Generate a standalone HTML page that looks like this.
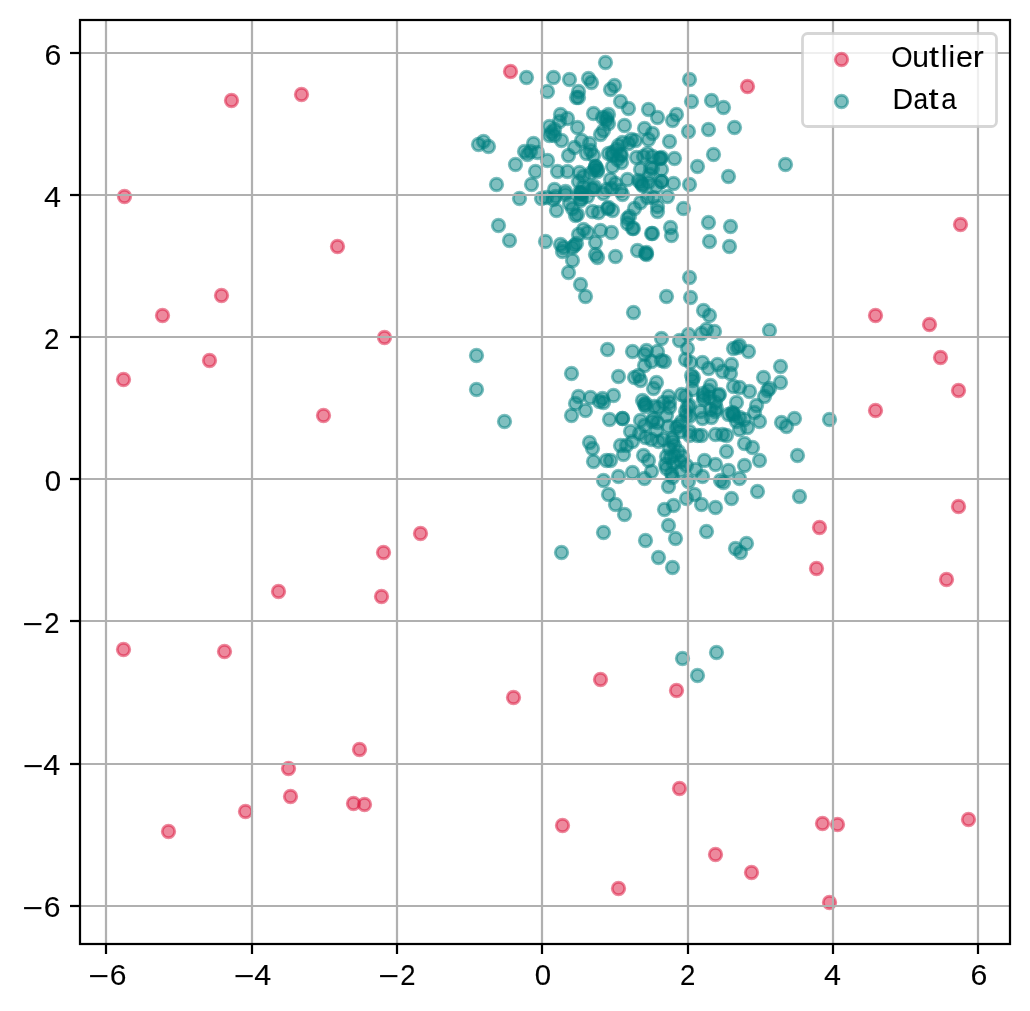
<!DOCTYPE html>
<html lang="en"><head><meta charset="utf-8"><title>Outlier scatter</title>
<style>
html,body{margin:0;padding:0;background:#fff;}
body{width:1030px;height:1011px;overflow:hidden;}
svg{display:block;position:absolute;left:0;top:0;}
text{font-family:"Liberation Sans",sans-serif;fill:#000;stroke:#000;vector-effect:non-scaling-stroke;}
.tx{filter:grayscale(1);}
.c{fill:#dc143c;fill-opacity:.5;stroke:#dc143c;stroke-opacity:.5;stroke-width:2.85;}
.t{fill:#008080;fill-opacity:.5;stroke:#008080;stroke-opacity:.5;stroke-width:2.85;}
.g{stroke:#b0b0b0;stroke-width:2.22;fill:none;}
.k{stroke:#000;stroke-width:2.22;fill:none;}
</style></head><body>
<svg width="1030" height="1011" viewBox="0 0 1030 1011">
<rect x="0" y="0" width="1030" height="1011" fill="#fff"/>
<defs><clipPath id="ax"><rect x="80.00" y="20.00" width="930.00" height="924.00"/></clipPath></defs>

<g clip-path="url(#ax)">
<g><circle class="c" cx="946.5" cy="579.5" r="6.25"/><circle class="c" cx="168.5" cy="831.5" r="6.25"/><circle class="c" cx="124.5" cy="196.5" r="6.25"/><circle class="c" cx="960.5" cy="224.5" r="6.25"/><circle class="c" cx="209.5" cy="360.5" r="6.25"/><circle class="c" cx="231.5" cy="100.5" r="6.25"/><circle class="c" cx="337.5" cy="246.5" r="6.25"/><circle class="c" cx="123.5" cy="379.5" r="6.25"/><circle class="c" cx="929.5" cy="324.5" r="6.25"/><circle class="c" cx="420.5" cy="533.5" r="6.25"/><circle class="c" cx="715.5" cy="854.5" r="6.25"/><circle class="c" cx="290.5" cy="796.5" r="6.25"/><circle class="c" cx="381.5" cy="596.5" r="6.25"/><circle class="c" cx="968.5" cy="819.5" r="6.25"/><circle class="c" cx="288.5" cy="768.5" r="6.25"/><circle class="c" cx="676.5" cy="690.5" r="6.25"/><circle class="c" cx="513.5" cy="697.5" r="6.25"/><circle class="c" cx="245.5" cy="811.5" r="6.25"/><circle class="c" cx="679.5" cy="788.5" r="6.25"/><circle class="c" cx="278.5" cy="591.5" r="6.25"/><circle class="c" cx="822.5" cy="823.5" r="6.25"/><circle class="c" cx="837.5" cy="824.5" r="6.25"/><circle class="c" cx="958.5" cy="506.5" r="6.25"/><circle class="c" cx="958.5" cy="390.5" r="6.25"/><circle class="c" cx="751.5" cy="872.5" r="6.25"/><circle class="c" cx="353.5" cy="803.5" r="6.25"/><circle class="c" cx="364.5" cy="804.5" r="6.25"/><circle class="c" cx="383.5" cy="552.5" r="6.25"/><circle class="c" cx="162.5" cy="315.5" r="6.25"/><circle class="c" cx="600.5" cy="679.5" r="6.25"/><circle class="c" cx="562.5" cy="825.5" r="6.25"/><circle class="c" cx="384.5" cy="337.5" r="6.25"/><circle class="c" cx="221.5" cy="295.5" r="6.25"/><circle class="c" cx="359.5" cy="749.5" r="6.25"/><circle class="c" cx="618.5" cy="888.5" r="6.25"/><circle class="c" cx="829.5" cy="902.5" r="6.25"/><circle class="c" cx="747.5" cy="86.5" r="6.25"/><circle class="c" cx="323.5" cy="415.5" r="6.25"/><circle class="c" cx="301.5" cy="94.5" r="6.25"/><circle class="c" cx="816.5" cy="568.5" r="6.25"/><circle class="c" cx="875.5" cy="410.5" r="6.25"/><circle class="c" cx="875.5" cy="315.5" r="6.25"/><circle class="c" cx="940.5" cy="357.5" r="6.25"/><circle class="c" cx="123.5" cy="649.5" r="6.25"/><circle class="c" cx="224.5" cy="651.5" r="6.25"/><circle class="c" cx="510.5" cy="71.5" r="6.25"/><circle class="c" cx="819.5" cy="527.5" r="6.25"/></g>
<g><circle class="t" cx="708.5" cy="222.5" r="6.25"/><circle class="t" cx="661.5" cy="181.5" r="6.25"/><circle class="t" cx="608.5" cy="153.5" r="6.25"/><circle class="t" cx="620.5" cy="101.5" r="6.25"/><circle class="t" cx="652.5" cy="168.5" r="6.25"/><circle class="t" cx="636.5" cy="157.5" r="6.25"/><circle class="t" cx="689.5" cy="184.5" r="6.25"/><circle class="t" cx="629.5" cy="216.5" r="6.25"/><circle class="t" cx="483.5" cy="141.5" r="6.25"/><circle class="t" cx="657.5" cy="211.5" r="6.25"/><circle class="t" cx="729.5" cy="246.5" r="6.25"/><circle class="t" cx="615.5" cy="183.5" r="6.25"/><circle class="t" cx="691.5" cy="101.5" r="6.25"/><circle class="t" cx="621.5" cy="155.5" r="6.25"/><circle class="t" cx="568.5" cy="272.5" r="6.25"/><circle class="t" cx="595.5" cy="166.5" r="6.25"/><circle class="t" cx="676.5" cy="114.5" r="6.25"/><circle class="t" cx="593.5" cy="189.5" r="6.25"/><circle class="t" cx="560.5" cy="244.5" r="6.25"/><circle class="t" cx="526.5" cy="77.5" r="6.25"/><circle class="t" cx="587.5" cy="196.5" r="6.25"/><circle class="t" cx="549.5" cy="135.5" r="6.25"/><circle class="t" cx="531.5" cy="184.5" r="6.25"/><circle class="t" cx="568.5" cy="155.5" r="6.25"/><circle class="t" cx="587.5" cy="232.5" r="6.25"/><circle class="t" cx="612.5" cy="152.5" r="6.25"/><circle class="t" cx="617.5" cy="159.5" r="6.25"/><circle class="t" cx="581.5" cy="192.5" r="6.25"/><circle class="t" cx="579.5" cy="192.5" r="6.25"/><circle class="t" cx="572.5" cy="260.5" r="6.25"/><circle class="t" cx="622.5" cy="194.5" r="6.25"/><circle class="t" cx="530.5" cy="151.5" r="6.25"/><circle class="t" cx="567.5" cy="171.5" r="6.25"/><circle class="t" cx="650.5" cy="167.5" r="6.25"/><circle class="t" cx="671.5" cy="235.5" r="6.25"/><circle class="t" cx="634.5" cy="208.5" r="6.25"/><circle class="t" cx="569.5" cy="203.5" r="6.25"/><circle class="t" cx="597.5" cy="171.5" r="6.25"/><circle class="t" cx="554.5" cy="129.5" r="6.25"/><circle class="t" cx="637.5" cy="250.5" r="6.25"/><circle class="t" cx="689.5" cy="79.5" r="6.25"/><circle class="t" cx="673.5" cy="183.5" r="6.25"/><circle class="t" cx="559.5" cy="121.5" r="6.25"/><circle class="t" cx="593.5" cy="113.5" r="6.25"/><circle class="t" cx="624.5" cy="125.5" r="6.25"/><circle class="t" cx="631.5" cy="139.5" r="6.25"/><circle class="t" cx="614.5" cy="85.5" r="6.25"/><circle class="t" cx="620.5" cy="154.5" r="6.25"/><circle class="t" cx="709.5" cy="241.5" r="6.25"/><circle class="t" cx="549.5" cy="126.5" r="6.25"/><circle class="t" cx="553.5" cy="77.5" r="6.25"/><circle class="t" cx="592.5" cy="211.5" r="6.25"/><circle class="t" cx="711.5" cy="100.5" r="6.25"/><circle class="t" cx="708.5" cy="129.5" r="6.25"/><circle class="t" cx="569.5" cy="79.5" r="6.25"/><circle class="t" cx="600.5" cy="134.5" r="6.25"/><circle class="t" cx="661.5" cy="181.5" r="6.25"/><circle class="t" cx="644.5" cy="128.5" r="6.25"/><circle class="t" cx="632.5" cy="228.5" r="6.25"/><circle class="t" cx="628.5" cy="108.5" r="6.25"/><circle class="t" cx="578.5" cy="181.5" r="6.25"/><circle class="t" cx="591.5" cy="82.5" r="6.25"/><circle class="t" cx="647.5" cy="153.5" r="6.25"/><circle class="t" cx="574.5" cy="147.5" r="6.25"/><circle class="t" cx="579.5" cy="172.5" r="6.25"/><circle class="t" cx="581.5" cy="140.5" r="6.25"/><circle class="t" cx="642.5" cy="184.5" r="6.25"/><circle class="t" cx="633.5" cy="228.5" r="6.25"/><circle class="t" cx="537.5" cy="152.5" r="6.25"/><circle class="t" cx="622.5" cy="142.5" r="6.25"/><circle class="t" cx="734.5" cy="127.5" r="6.25"/><circle class="t" cx="567.5" cy="118.5" r="6.25"/><circle class="t" cx="546.5" cy="197.5" r="6.25"/><circle class="t" cx="610.5" cy="89.5" r="6.25"/><circle class="t" cx="575.5" cy="215.5" r="6.25"/><circle class="t" cx="608.5" cy="207.5" r="6.25"/><circle class="t" cx="670.5" cy="227.5" r="6.25"/><circle class="t" cx="555.5" cy="196.5" r="6.25"/><circle class="t" cx="588.5" cy="78.5" r="6.25"/><circle class="t" cx="661.5" cy="169.5" r="6.25"/><circle class="t" cx="551.5" cy="132.5" r="6.25"/><circle class="t" cx="562.5" cy="251.5" r="6.25"/><circle class="t" cx="674.5" cy="158.5" r="6.25"/><circle class="t" cx="660.5" cy="158.5" r="6.25"/><circle class="t" cx="657.5" cy="206.5" r="6.25"/><circle class="t" cx="561.5" cy="140.5" r="6.25"/><circle class="t" cx="572.5" cy="208.5" r="6.25"/><circle class="t" cx="590.5" cy="173.5" r="6.25"/><circle class="t" cx="595.5" cy="242.5" r="6.25"/><circle class="t" cx="580.5" cy="284.5" r="6.25"/><circle class="t" cx="645.5" cy="253.5" r="6.25"/><circle class="t" cx="557.5" cy="171.5" r="6.25"/><circle class="t" cx="576.5" cy="97.5" r="6.25"/><circle class="t" cx="547.5" cy="160.5" r="6.25"/><circle class="t" cx="611.5" cy="232.5" r="6.25"/><circle class="t" cx="640.5" cy="182.5" r="6.25"/><circle class="t" cx="652.5" cy="133.5" r="6.25"/><circle class="t" cx="723.5" cy="107.5" r="6.25"/><circle class="t" cx="594.5" cy="186.5" r="6.25"/><circle class="t" cx="669.5" cy="141.5" r="6.25"/><circle class="t" cx="646.5" cy="254.5" r="6.25"/><circle class="t" cx="612.5" cy="210.5" r="6.25"/><circle class="t" cx="627.5" cy="179.5" r="6.25"/><circle class="t" cx="659.5" cy="158.5" r="6.25"/><circle class="t" cx="653.5" cy="197.5" r="6.25"/><circle class="t" cx="565.5" cy="194.5" r="6.25"/><circle class="t" cx="612.5" cy="155.5" r="6.25"/><circle class="t" cx="728.5" cy="176.5" r="6.25"/><circle class="t" cx="565.5" cy="191.5" r="6.25"/><circle class="t" cx="590.5" cy="150.5" r="6.25"/><circle class="t" cx="535.5" cy="171.5" r="6.25"/><circle class="t" cx="621.5" cy="162.5" r="6.25"/><circle class="t" cx="583.5" cy="186.5" r="6.25"/><circle class="t" cx="541.5" cy="198.5" r="6.25"/><circle class="t" cx="586.5" cy="153.5" r="6.25"/><circle class="t" cx="554.5" cy="135.5" r="6.25"/><circle class="t" cx="689.5" cy="277.5" r="6.25"/><circle class="t" cx="635.5" cy="140.5" r="6.25"/><circle class="t" cx="581.5" cy="194.5" r="6.25"/><circle class="t" cx="606.5" cy="189.5" r="6.25"/><circle class="t" cx="597.5" cy="257.5" r="6.25"/><circle class="t" cx="672.5" cy="120.5" r="6.25"/><circle class="t" cx="572.5" cy="247.5" r="6.25"/><circle class="t" cx="640.5" cy="202.5" r="6.25"/><circle class="t" cx="620.5" cy="190.5" r="6.25"/><circle class="t" cx="648.5" cy="139.5" r="6.25"/><circle class="t" cx="576.5" cy="243.5" r="6.25"/><circle class="t" cx="533.5" cy="143.5" r="6.25"/><circle class="t" cx="553.5" cy="199.5" r="6.25"/><circle class="t" cx="583.5" cy="176.5" r="6.25"/><circle class="t" cx="515.5" cy="164.5" r="6.25"/><circle class="t" cx="640.5" cy="169.5" r="6.25"/><circle class="t" cx="597.5" cy="169.5" r="6.25"/><circle class="t" cx="633.5" cy="312.5" r="6.25"/><circle class="t" cx="713.5" cy="154.5" r="6.25"/><circle class="t" cx="580.5" cy="193.5" r="6.25"/><circle class="t" cx="638.5" cy="180.5" r="6.25"/><circle class="t" cx="608.5" cy="123.5" r="6.25"/><circle class="t" cx="578.5" cy="97.5" r="6.25"/><circle class="t" cx="628.5" cy="143.5" r="6.25"/><circle class="t" cx="560.5" cy="114.5" r="6.25"/><circle class="t" cx="648.5" cy="109.5" r="6.25"/><circle class="t" cx="581.5" cy="198.5" r="6.25"/><circle class="t" cx="730.5" cy="226.5" r="6.25"/><circle class="t" cx="606.5" cy="117.5" r="6.25"/><circle class="t" cx="618.5" cy="145.5" r="6.25"/><circle class="t" cx="593.5" cy="155.5" r="6.25"/><circle class="t" cx="547.5" cy="91.5" r="6.25"/><circle class="t" cx="607.5" cy="208.5" r="6.25"/><circle class="t" cx="647.5" cy="197.5" r="6.25"/><circle class="t" cx="545.5" cy="241.5" r="6.25"/><circle class="t" cx="648.5" cy="182.5" r="6.25"/><circle class="t" cx="606.5" cy="120.5" r="6.25"/><circle class="t" cx="556.5" cy="210.5" r="6.25"/><circle class="t" cx="594.5" cy="169.5" r="6.25"/><circle class="t" cx="611.5" cy="188.5" r="6.25"/><circle class="t" cx="610.5" cy="179.5" r="6.25"/><circle class="t" cx="577.5" cy="214.5" r="6.25"/><circle class="t" cx="627.5" cy="218.5" r="6.25"/><circle class="t" cx="554.5" cy="189.5" r="6.25"/><circle class="t" cx="605.5" cy="62.5" r="6.25"/><circle class="t" cx="577.5" cy="127.5" r="6.25"/><circle class="t" cx="651.5" cy="233.5" r="6.25"/><circle class="t" cx="652.5" cy="233.5" r="6.25"/><circle class="t" cx="478.5" cy="144.5" r="6.25"/><circle class="t" cx="524.5" cy="151.5" r="6.25"/><circle class="t" cx="578.5" cy="91.5" r="6.25"/><circle class="t" cx="667.5" cy="196.5" r="6.25"/><circle class="t" cx="578.5" cy="234.5" r="6.25"/><circle class="t" cx="591.5" cy="188.5" r="6.25"/><circle class="t" cx="595.5" cy="166.5" r="6.25"/><circle class="t" cx="643.5" cy="156.5" r="6.25"/><circle class="t" cx="574.5" cy="245.5" r="6.25"/><circle class="t" cx="683.5" cy="208.5" r="6.25"/><circle class="t" cx="580.5" cy="200.5" r="6.25"/><circle class="t" cx="519.5" cy="198.5" r="6.25"/><circle class="t" cx="589.5" cy="143.5" r="6.25"/><circle class="t" cx="649.5" cy="174.5" r="6.25"/><circle class="t" cx="661.5" cy="157.5" r="6.25"/><circle class="t" cx="612.5" cy="166.5" r="6.25"/><circle class="t" cx="603.5" cy="193.5" r="6.25"/><circle class="t" cx="600.5" cy="230.5" r="6.25"/><circle class="t" cx="627.5" cy="223.5" r="6.25"/><circle class="t" cx="656.5" cy="186.5" r="6.25"/><circle class="t" cx="616.5" cy="149.5" r="6.25"/><circle class="t" cx="646.5" cy="252.5" r="6.25"/><circle class="t" cx="603.5" cy="130.5" r="6.25"/><circle class="t" cx="527.5" cy="154.5" r="6.25"/><circle class="t" cx="498.5" cy="225.5" r="6.25"/><circle class="t" cx="615.5" cy="256.5" r="6.25"/><circle class="t" cx="563.5" cy="247.5" r="6.25"/><circle class="t" cx="697.5" cy="166.5" r="6.25"/><circle class="t" cx="642.5" cy="185.5" r="6.25"/><circle class="t" cx="595.5" cy="254.5" r="6.25"/><circle class="t" cx="598.5" cy="212.5" r="6.25"/><circle class="t" cx="657.5" cy="117.5" r="6.25"/><circle class="t" cx="688.5" cy="131.5" r="6.25"/><circle class="t" cx="583.5" cy="229.5" r="6.25"/><circle class="t" cx="652.5" cy="156.5" r="6.25"/><circle class="t" cx="602.5" cy="398.5" r="6.25"/><circle class="t" cx="733.5" cy="413.5" r="6.25"/><circle class="t" cx="682.5" cy="456.5" r="6.25"/><circle class="t" cx="618.5" cy="376.5" r="6.25"/><circle class="t" cx="676.5" cy="427.5" r="6.25"/><circle class="t" cx="780.5" cy="382.5" r="6.25"/><circle class="t" cx="710.5" cy="409.5" r="6.25"/><circle class="t" cx="769.5" cy="330.5" r="6.25"/><circle class="t" cx="739.5" cy="387.5" r="6.25"/><circle class="t" cx="585.5" cy="410.5" r="6.25"/><circle class="t" cx="685.5" cy="411.5" r="6.25"/><circle class="t" cx="740.5" cy="552.5" r="6.25"/><circle class="t" cx="663.5" cy="402.5" r="6.25"/><circle class="t" cx="668.5" cy="486.5" r="6.25"/><circle class="t" cx="736.5" cy="402.5" r="6.25"/><circle class="t" cx="642.5" cy="400.5" r="6.25"/><circle class="t" cx="733.5" cy="415.5" r="6.25"/><circle class="t" cx="732.5" cy="412.5" r="6.25"/><circle class="t" cx="671.5" cy="473.5" r="6.25"/><circle class="t" cx="687.5" cy="406.5" r="6.25"/><circle class="t" cx="736.5" cy="421.5" r="6.25"/><circle class="t" cx="715.5" cy="464.5" r="6.25"/><circle class="t" cx="652.5" cy="421.5" r="6.25"/><circle class="t" cx="638.5" cy="375.5" r="6.25"/><circle class="t" cx="715.5" cy="402.5" r="6.25"/><circle class="t" cx="709.5" cy="315.5" r="6.25"/><circle class="t" cx="668.5" cy="525.5" r="6.25"/><circle class="t" cx="702.5" cy="418.5" r="6.25"/><circle class="t" cx="665.5" cy="464.5" r="6.25"/><circle class="t" cx="669.5" cy="407.5" r="6.25"/><circle class="t" cx="666.5" cy="296.5" r="6.25"/><circle class="t" cx="643.5" cy="455.5" r="6.25"/><circle class="t" cx="575.5" cy="403.5" r="6.25"/><circle class="t" cx="589.5" cy="442.5" r="6.25"/><circle class="t" cx="678.5" cy="451.5" r="6.25"/><circle class="t" cx="780.5" cy="366.5" r="6.25"/><circle class="t" cx="759.5" cy="460.5" r="6.25"/><circle class="t" cx="749.5" cy="391.5" r="6.25"/><circle class="t" cx="731.5" cy="364.5" r="6.25"/><circle class="t" cx="645.5" cy="437.5" r="6.25"/><circle class="t" cx="735.5" cy="548.5" r="6.25"/><circle class="t" cx="769.5" cy="388.5" r="6.25"/><circle class="t" cx="689.5" cy="405.5" r="6.25"/><circle class="t" cx="639.5" cy="433.5" r="6.25"/><circle class="t" cx="748.5" cy="351.5" r="6.25"/><circle class="t" cx="829.5" cy="419.5" r="6.25"/><circle class="t" cx="658.5" cy="441.5" r="6.25"/><circle class="t" cx="640.5" cy="420.5" r="6.25"/><circle class="t" cx="711.5" cy="417.5" r="6.25"/><circle class="t" cx="747.5" cy="427.5" r="6.25"/><circle class="t" cx="674.5" cy="445.5" r="6.25"/><circle class="t" cx="608.5" cy="494.5" r="6.25"/><circle class="t" cx="632.5" cy="351.5" r="6.25"/><circle class="t" cx="737.5" cy="347.5" r="6.25"/><circle class="t" cx="624.5" cy="514.5" r="6.25"/><circle class="t" cx="658.5" cy="407.5" r="6.25"/><circle class="t" cx="717.5" cy="364.5" r="6.25"/><circle class="t" cx="706.5" cy="329.5" r="6.25"/><circle class="t" cx="680.5" cy="461.5" r="6.25"/><circle class="t" cx="606.5" cy="460.5" r="6.25"/><circle class="t" cx="704.5" cy="460.5" r="6.25"/><circle class="t" cx="739.5" cy="345.5" r="6.25"/><circle class="t" cx="571.5" cy="373.5" r="6.25"/><circle class="t" cx="578.5" cy="396.5" r="6.25"/><circle class="t" cx="754.5" cy="412.5" r="6.25"/><circle class="t" cx="626.5" cy="445.5" r="6.25"/><circle class="t" cx="678.5" cy="425.5" r="6.25"/><circle class="t" cx="681.5" cy="421.5" r="6.25"/><circle class="t" cx="702.5" cy="476.5" r="6.25"/><circle class="t" cx="679.5" cy="340.5" r="6.25"/><circle class="t" cx="672.5" cy="438.5" r="6.25"/><circle class="t" cx="746.5" cy="543.5" r="6.25"/><circle class="t" cx="752.5" cy="447.5" r="6.25"/><circle class="t" cx="700.5" cy="411.5" r="6.25"/><circle class="t" cx="739.5" cy="429.5" r="6.25"/><circle class="t" cx="657.5" cy="351.5" r="6.25"/><circle class="t" cx="571.5" cy="415.5" r="6.25"/><circle class="t" cx="623.5" cy="454.5" r="6.25"/><circle class="t" cx="794.5" cy="418.5" r="6.25"/><circle class="t" cx="701.5" cy="504.5" r="6.25"/><circle class="t" cx="654.5" cy="406.5" r="6.25"/><circle class="t" cx="710.5" cy="385.5" r="6.25"/><circle class="t" cx="692.5" cy="389.5" r="6.25"/><circle class="t" cx="715.5" cy="507.5" r="6.25"/><circle class="t" cx="693.5" cy="377.5" r="6.25"/><circle class="t" cx="722.5" cy="434.5" r="6.25"/><circle class="t" cx="651.5" cy="471.5" r="6.25"/><circle class="t" cx="685.5" cy="359.5" r="6.25"/><circle class="t" cx="592.5" cy="448.5" r="6.25"/><circle class="t" cx="634.5" cy="377.5" r="6.25"/><circle class="t" cx="663.5" cy="439.5" r="6.25"/><circle class="t" cx="681.5" cy="394.5" r="6.25"/><circle class="t" cx="672.5" cy="567.5" r="6.25"/><circle class="t" cx="719.5" cy="394.5" r="6.25"/><circle class="t" cx="680.5" cy="470.5" r="6.25"/><circle class="t" cx="709.5" cy="397.5" r="6.25"/><circle class="t" cx="668.5" cy="426.5" r="6.25"/><circle class="t" cx="644.5" cy="425.5" r="6.25"/><circle class="t" cx="613.5" cy="395.5" r="6.25"/><circle class="t" cx="644.5" cy="404.5" r="6.25"/><circle class="t" cx="620.5" cy="445.5" r="6.25"/><circle class="t" cx="686.5" cy="498.5" r="6.25"/><circle class="t" cx="697.5" cy="435.5" r="6.25"/><circle class="t" cx="603.5" cy="480.5" r="6.25"/><circle class="t" cx="722.5" cy="371.5" r="6.25"/><circle class="t" cx="685.5" cy="396.5" r="6.25"/><circle class="t" cx="703.5" cy="399.5" r="6.25"/><circle class="t" cx="757.5" cy="491.5" r="6.25"/><circle class="t" cx="726.5" cy="435.5" r="6.25"/><circle class="t" cx="680.5" cy="431.5" r="6.25"/><circle class="t" cx="672.5" cy="477.5" r="6.25"/><circle class="t" cx="701.5" cy="333.5" r="6.25"/><circle class="t" cx="689.5" cy="416.5" r="6.25"/><circle class="t" cx="657.5" cy="422.5" r="6.25"/><circle class="t" cx="715.5" cy="434.5" r="6.25"/><circle class="t" cx="668.5" cy="396.5" r="6.25"/><circle class="t" cx="645.5" cy="403.5" r="6.25"/><circle class="t" cx="733.5" cy="348.5" r="6.25"/><circle class="t" cx="687.5" cy="348.5" r="6.25"/><circle class="t" cx="744.5" cy="465.5" r="6.25"/><circle class="t" cx="630.5" cy="431.5" r="6.25"/><circle class="t" cx="744.5" cy="419.5" r="6.25"/><circle class="t" cx="661.5" cy="338.5" r="6.25"/><circle class="t" cx="706.5" cy="531.5" r="6.25"/><circle class="t" cx="708.5" cy="390.5" r="6.25"/><circle class="t" cx="703.5" cy="393.5" r="6.25"/><circle class="t" cx="688.5" cy="481.5" r="6.25"/><circle class="t" cx="673.5" cy="463.5" r="6.25"/><circle class="t" cx="644.5" cy="478.5" r="6.25"/><circle class="t" cx="715.5" cy="411.5" r="6.25"/><circle class="t" cx="669.5" cy="448.5" r="6.25"/><circle class="t" cx="690.5" cy="362.5" r="6.25"/><circle class="t" cx="590.5" cy="397.5" r="6.25"/><circle class="t" cx="664.5" cy="509.5" r="6.25"/><circle class="t" cx="593.5" cy="461.5" r="6.25"/><circle class="t" cx="703.5" cy="396.5" r="6.25"/><circle class="t" cx="644.5" cy="365.5" r="6.25"/><circle class="t" cx="764.5" cy="396.5" r="6.25"/><circle class="t" cx="661.5" cy="360.5" r="6.25"/><circle class="t" cx="730.5" cy="373.5" r="6.25"/><circle class="t" cx="658.5" cy="557.5" r="6.25"/><circle class="t" cx="799.5" cy="496.5" r="6.25"/><circle class="t" cx="690.5" cy="297.5" r="6.25"/><circle class="t" cx="708.5" cy="368.5" r="6.25"/><circle class="t" cx="615.5" cy="504.5" r="6.25"/><circle class="t" cx="664.5" cy="361.5" r="6.25"/><circle class="t" cx="674.5" cy="455.5" r="6.25"/><circle class="t" cx="702.5" cy="362.5" r="6.25"/><circle class="t" cx="618.5" cy="476.5" r="6.25"/><circle class="t" cx="651.5" cy="361.5" r="6.25"/><circle class="t" cx="703.5" cy="310.5" r="6.25"/><circle class="t" cx="739.5" cy="417.5" r="6.25"/><circle class="t" cx="756.5" cy="405.5" r="6.25"/><circle class="t" cx="656.5" cy="382.5" r="6.25"/><circle class="t" cx="656.5" cy="430.5" r="6.25"/><circle class="t" cx="759.5" cy="421.5" r="6.25"/><circle class="t" cx="651.5" cy="439.5" r="6.25"/><circle class="t" cx="744.5" cy="443.5" r="6.25"/><circle class="t" cx="672.5" cy="441.5" r="6.25"/><circle class="t" cx="701.5" cy="435.5" r="6.25"/><circle class="t" cx="610.5" cy="460.5" r="6.25"/><circle class="t" cx="644.5" cy="354.5" r="6.25"/><circle class="t" cx="733.5" cy="386.5" r="6.25"/><circle class="t" cx="666.5" cy="456.5" r="6.25"/><circle class="t" cx="666.5" cy="468.5" r="6.25"/><circle class="t" cx="720.5" cy="480.5" r="6.25"/><circle class="t" cx="686.5" cy="465.5" r="6.25"/><circle class="t" cx="632.5" cy="472.5" r="6.25"/><circle class="t" cx="781.5" cy="422.5" r="6.25"/><circle class="t" cx="653.5" cy="388.5" r="6.25"/><circle class="t" cx="692.5" cy="380.5" r="6.25"/><circle class="t" cx="599.5" cy="401.5" r="6.25"/><circle class="t" cx="731.5" cy="498.5" r="6.25"/><circle class="t" cx="714.5" cy="331.5" r="6.25"/><circle class="t" cx="691.5" cy="375.5" r="6.25"/><circle class="t" cx="726.5" cy="451.5" r="6.25"/><circle class="t" cx="694.5" cy="494.5" r="6.25"/><circle class="t" cx="669.5" cy="402.5" r="6.25"/><circle class="t" cx="728.5" cy="414.5" r="6.25"/><circle class="t" cx="728.5" cy="470.5" r="6.25"/><circle class="t" cx="686.5" cy="415.5" r="6.25"/><circle class="t" cx="786.5" cy="426.5" r="6.25"/><circle class="t" cx="666.5" cy="415.5" r="6.25"/><circle class="t" cx="645.5" cy="406.5" r="6.25"/><circle class="t" cx="673.5" cy="505.5" r="6.25"/><circle class="t" cx="689.5" cy="431.5" r="6.25"/><circle class="t" cx="609.5" cy="419.5" r="6.25"/><circle class="t" cx="767.5" cy="390.5" r="6.25"/><circle class="t" cx="723.5" cy="482.5" r="6.25"/><circle class="t" cx="716.5" cy="408.5" r="6.25"/><circle class="t" cx="718.5" cy="395.5" r="6.25"/><circle class="t" cx="622.5" cy="418.5" r="6.25"/><circle class="t" cx="653.5" cy="418.5" r="6.25"/><circle class="t" cx="646.5" cy="350.5" r="6.25"/><circle class="t" cx="648.5" cy="460.5" r="6.25"/><circle class="t" cx="695.5" cy="469.5" r="6.25"/><circle class="t" cx="670.5" cy="457.5" r="6.25"/><circle class="t" cx="763.5" cy="377.5" r="6.25"/><circle class="t" cx="689.5" cy="435.5" r="6.25"/><circle class="t" cx="585.5" cy="296.5" r="6.25"/><circle class="t" cx="632.5" cy="441.5" r="6.25"/><circle class="t" cx="476.5" cy="355.5" r="6.25"/><circle class="t" cx="488.5" cy="146.5" r="6.25"/><circle class="t" cx="797.5" cy="455.5" r="6.25"/><circle class="t" cx="602.5" cy="117.5" r="6.25"/><circle class="t" cx="785.5" cy="164.5" r="6.25"/><circle class="t" cx="509.5" cy="240.5" r="6.25"/><circle class="t" cx="561.5" cy="552.5" r="6.25"/><circle class="t" cx="504.5" cy="421.5" r="6.25"/><circle class="t" cx="640.5" cy="380.5" r="6.25"/><circle class="t" cx="688.5" cy="334.5" r="6.25"/><circle class="t" cx="603.5" cy="532.5" r="6.25"/><circle class="t" cx="608.5" cy="114.5" r="6.25"/><circle class="t" cx="697.5" cy="675.5" r="6.25"/><circle class="t" cx="622.5" cy="418.5" r="6.25"/><circle class="t" cx="496.5" cy="184.5" r="6.25"/><circle class="t" cx="716.5" cy="652.5" r="6.25"/><circle class="t" cx="739.5" cy="478.5" r="6.25"/><circle class="t" cx="476.5" cy="389.5" r="6.25"/><circle class="t" cx="682.5" cy="658.5" r="6.25"/><circle class="t" cx="645.5" cy="540.5" r="6.25"/><circle class="t" cx="603.5" cy="402.5" r="6.25"/><circle class="t" cx="607.5" cy="349.5" r="6.25"/><circle class="t" cx="675.5" cy="538.5" r="6.25"/></g>
<g><line class="g" x1="106.00" y1="20.00" x2="106.00" y2="944.00"/><line class="g" x1="80.00" y1="906.00" x2="1010.00" y2="906.00"/><line class="g" x1="252.00" y1="20.00" x2="252.00" y2="944.00"/><line class="g" x1="80.00" y1="764.00" x2="1010.00" y2="764.00"/><line class="g" x1="397.00" y1="20.00" x2="397.00" y2="944.00"/><line class="g" x1="80.00" y1="621.00" x2="1010.00" y2="621.00"/><line class="g" x1="542.00" y1="20.00" x2="542.00" y2="944.00"/><line class="g" x1="80.00" y1="479.00" x2="1010.00" y2="479.00"/><line class="g" x1="688.00" y1="20.00" x2="688.00" y2="944.00"/><line class="g" x1="80.00" y1="337.00" x2="1010.00" y2="337.00"/><line class="g" x1="833.00" y1="20.00" x2="833.00" y2="944.00"/><line class="g" x1="80.00" y1="195.00" x2="1010.00" y2="195.00"/><line class="g" x1="978.00" y1="20.00" x2="978.00" y2="944.00"/><line class="g" x1="80.00" y1="53.00" x2="1010.00" y2="53.00"/></g>
</g>
<g><line class="k" x1="106.00" y1="944.00" x2="106.00" y2="954.00"/><line class="k" x1="70.00" y1="906.00" x2="80.00" y2="906.00"/><line class="k" x1="252.00" y1="944.00" x2="252.00" y2="954.00"/><line class="k" x1="70.00" y1="764.00" x2="80.00" y2="764.00"/><line class="k" x1="397.00" y1="944.00" x2="397.00" y2="954.00"/><line class="k" x1="70.00" y1="621.00" x2="80.00" y2="621.00"/><line class="k" x1="542.00" y1="944.00" x2="542.00" y2="954.00"/><line class="k" x1="70.00" y1="479.00" x2="80.00" y2="479.00"/><line class="k" x1="688.00" y1="944.00" x2="688.00" y2="954.00"/><line class="k" x1="70.00" y1="337.00" x2="80.00" y2="337.00"/><line class="k" x1="833.00" y1="944.00" x2="833.00" y2="954.00"/><line class="k" x1="70.00" y1="195.00" x2="80.00" y2="195.00"/><line class="k" x1="978.00" y1="944.00" x2="978.00" y2="954.00"/><line class="k" x1="70.00" y1="53.00" x2="80.00" y2="53.00"/></g>
<rect class="k" x="80.00" y="20.00" width="930.00" height="924.00" style="stroke-linejoin:miter"/>
<g class="tx" font-size="28"><text transform="translate(88.24 985.95) scale(1.2696 1.0590)" stroke-width="0.10">−</text><text transform="translate(109.85 985.00) scale(1.0717 1.0590)" stroke-width="0.10">6</text><text transform="translate(233.74 986.20) scale(1.2626 1.0590)" stroke-width="0.10">−</text><text transform="translate(254.20 985.00) scale(1.0911 1.0590)" stroke-width="0.10">4</text><text transform="translate(378.24 985.95) scale(1.2696 1.0590)" stroke-width="0.10">−</text><text transform="translate(400.33 985.00) scale(0.9797 1.0590)" stroke-width="0.10">2</text><text transform="translate(534.75 985.00) scale(1.0507 1.0590)" stroke-width="0.10">0</text><text transform="translate(680.08 985.00) scale(0.9867 1.0590)" stroke-width="0.10">2</text><text transform="translate(823.95 985.00) scale(1.0911 1.0590)" stroke-width="0.10">4</text><text transform="translate(970.60 985.00) scale(1.0795 1.0590)" stroke-width="0.10">6</text><text transform="translate(44.60 65.00) scale(1.0795 1.0590)" stroke-width="0.10">6</text><text transform="translate(43.95 207.00) scale(1.0911 1.0590)" stroke-width="0.10">4</text><text transform="translate(44.08 349.00) scale(0.9867 1.0590)" stroke-width="0.10">2</text><text transform="translate(44.75 491.00) scale(1.0507 1.0590)" stroke-width="0.10">0</text><text transform="translate(22.24 633.95) scale(1.2696 1.0590)" stroke-width="0.10">−</text><text transform="translate(44.33 633.00) scale(0.9797 1.0590)" stroke-width="0.10">2</text><text transform="translate(22.74 776.20) scale(1.2626 1.0590)" stroke-width="0.10">−</text><text transform="translate(43.20 775.00) scale(1.0911 1.0590)" stroke-width="0.10">4</text><text transform="translate(22.24 917.95) scale(1.2696 1.0590)" stroke-width="0.10">−</text><text transform="translate(43.85 917.00) scale(1.0717 1.0590)" stroke-width="0.10">6</text></g>
<rect x="802.5" y="33.5" width="194" height="93" rx="5.1" ry="5.1" fill="#fff" fill-opacity="0.8" stroke="#ccc" stroke-opacity="0.8" stroke-width="2.78"/>
<circle class="c" cx="841.5" cy="59.5" r="6.25"/>
<circle class="t" cx="841.5" cy="101.5" r="6.25"/>
<g class="tx" font-size="28"><text transform="translate(891.21 67.00) scale(0.9794 1.0590)" stroke-width="0.10">O</text><text transform="translate(912.36 67.00) scale(1.0744 1.0590)" stroke-width="0.10">u</text><text transform="translate(929.09 67.00) scale(1.2742 1.0590)" stroke-width="0.10">t</text><text transform="translate(941.08 67.00) scale(0.9965 1.0590)" stroke-width="0.10">l</text><text transform="translate(948.60 67.00) scale(1.0495 1.0590)" stroke-width="0.10">i</text><text transform="translate(956.12 67.00) scale(1.0933 1.0590)" stroke-width="0.10">e</text><text transform="translate(972.85 67.00) scale(1.1816 1.0590)" stroke-width="0.10">r</text><text transform="translate(892.40 109.00) scale(1.0169 1.0590)" stroke-width="0.10">D</text><text transform="translate(913.57 109.00) scale(0.9384 1.0590)" stroke-width="0.10">a</text><text transform="translate(928.56 109.00) scale(1.3000 1.0590)" stroke-width="0.10">t</text><text transform="translate(941.35 109.00) scale(0.9827 1.0590)" stroke-width="0.10">a</text></g>
</svg></body></html>
